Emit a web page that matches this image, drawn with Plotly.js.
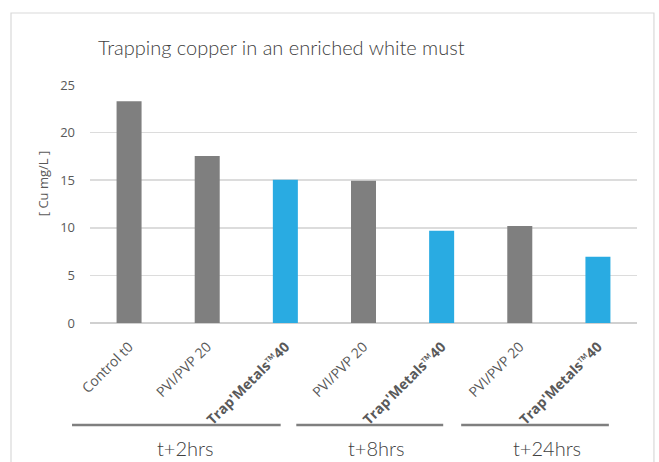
<!DOCTYPE html>
<html>
<head>
<meta charset="utf-8">
<script src="https://cdn.plot.ly/plotly-3.0.1.min.js"></script>
<style>html,body{margin:0;padding:0;background:#fff;}#chart{width:659px;height:462px;}</style>
</head>
<body>
<div id="chart"></div>
<script>
// ---- data ----
const categories = ["Control t0", "PVI/PVP 20", "Trap'Metals™40", "PVI/PVP 20", "Trap'Metals™40", "PVI/PVP 20", "Trap'Metals™40"];
const isTrapMetals = [false, false, true, false, true, false, true];
const copperValues = [23.3, 17.55, 15.05, 14.95, 9.7, 10.2, 6.95];
const groupLabels = ["t+2hrs", "t+8hrs", "t+24hrs"];
const groupFirst = [0, 3, 5];
const groupLast = [2, 4, 6];
const yTicks = [0, 5, 10, 15, 20, 25];

// ---- style ----
const GRAY = "#7f7f7f", BLUE = "#29abe2";
const groupLineOffsets = [[-0.73, -0.06], [-0.86, 0.02], [-0.75, 0.14]];
const groupTextOffsets = [-0.28, -0.34, -0.15];

const idx = categories.map((c, i) => i);
const nCat = categories.length;
const toPaper = v => (v + 0.5) / nCat;   // category units -> paper fraction for range [-0.5, n-0.5]
const tickText = categories.map((c, i) => isTrapMetals[i] ? "<b>" + c + "</b>" : c);

const trace = {
  type: "bar",
  x: idx,
  y: copperValues,
  width: 0.32,
  marker: { color: isTrapMetals.map(t => t ? BLUE : GRAY) },
  hoverinfo: "x+y"
};

const shapes = [{
  type: "rect", xref: "paper", yref: "paper",
  x0: -0.1444, x1: 1.031, y0: -1, y1: 1.3025,
  line: { color: "#d9d9d9", width: 1.2 }, fillcolor: "rgba(0,0,0,0)", layer: "below"
}];
const annotations = [];
groupLabels.forEach((g, k) => {
  const mid = (groupFirst[k] + groupLast[k]) / 2;
  shapes.push({
    type: "line", xref: "paper", yref: "paper",
    x0: toPaper(groupFirst[k] + groupLineOffsets[k][0]), x1: toPaper(groupLast[k] + groupLineOffsets[k][1]),
    y0: -0.4286, y1: -0.4286,
    line: { color: "#7f7f7f", width: 2.5 }
  });
  annotations.push({
    text: g, xref: "paper", yref: "paper", x: toPaper(mid + groupTextOffsets[k]), y: -0.525,
    xanchor: "center", yanchor: "middle", showarrow: false,
    font: { family: "Lato, sans-serif", size: 20, weight: 300, color: "#404040" }
  });
});
annotations.push({
  text: "[ Cu mg/L ]", xref: "paper", yref: "paper", x: -0.086, y: 0.587,
  xanchor: "center", yanchor: "middle", textangle: -90, showarrow: false,
  font: { family: "Open Sans, sans-serif", size: 13, color: "#595959" }
});

const layout = {
  width: 659, height: 462,
  margin: { l: 90, r: 22, t: 85, b: 139, pad: 0 },
  paper_bgcolor: "#fff", plot_bgcolor: "#fff",
  showlegend: false,
  title: {
    text: "Trapping copper in an enriched white must",
    xref: "container", yref: "container", x: 98 / 659, y: 1 - 48 / 462,
    xanchor: "left", yanchor: "middle",
    font: { family: "Lato, sans-serif", size: 20, weight: 300, color: "#404040" }
  },
  xaxis: {
    range: [-0.5, nCat - 0.5], tickmode: "array", tickvals: idx, ticktext: tickText,
    tickangle: -45, showgrid: false, zeroline: false, showline: false, ticks: "",
    ticklabelstandoff: 12,
    tickfont: { family: "Open Sans, sans-serif", size: 14, color: "#595959" }
  },
  yaxis: {
    range: [0, 25], tickmode: "array", tickvals: yTicks,
    showgrid: true, gridcolor: "#dcdcdc", gridwidth: 1.6,
    zeroline: true, zerolinecolor: "#d0d0d0", zerolinewidth: 1.6,
    showline: false, ticks: "", ticklabelstandoff: 14,
    tickfont: { family: "Open Sans, sans-serif", size: 13, color: "#595959" }
  },
  shapes: shapes,
  annotations: annotations
};

Plotly.newPlot("chart", [trace], layout, { displayModeBar: false, staticPlot: true });
</script>
</body>
</html>
